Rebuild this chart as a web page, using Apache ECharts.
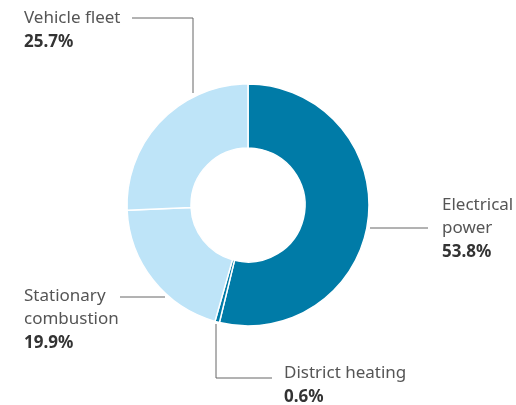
<!DOCTYPE html>
<html>
<head>
<meta charset="utf-8">
<script src="https://cdn.jsdelivr.net/npm/echarts@6/dist/echarts.min.js"></script>
<style>
  html, body { margin: 0; padding: 0; background: #ffffff; }
  #chart { width: 516px; height: 405px; }
</style>
</head>
<body>
<div id="chart"></div>
<script>
// Emission sources and their share of the total (%)
const categories = ['Electrical power', 'District heating', 'Stationary combustion', 'Vehicle fleet'];
const labelRows = [['Electrical', 'power'], ['District heating'], ['Stationary', 'combustion'], ['Vehicle fleet']];
const shares = [53.8, 0.6, 19.9, 25.7];

const DARK = '#007ba7';
const LIGHT = '#bee4f8';
const sliceColors = [DARK, DARK, LIGHT, LIGHT];

// Label placement: text block top-left corner and elbow leader line
const leaders = [
  { x: 442, y: 194, points: [[370, 228], [399, 228], [428, 228]] },
  { x: 284, y: 362, points: [[216, 324], [216, 378], [272, 378]] },
  { x: 24,  y: 285, points: [[165, 297], [142, 297], [120, 297]] },
  { x: 24,  y: 7,   points: [[193, 93], [193, 18], [132, 18]] }
];

const FONT = '"Noto Sans", "Open Sans", sans-serif';

const chart = echarts.init(document.getElementById('chart'), null, { renderer: 'canvas' });

chart.setOption({
  animation: false,
  backgroundColor: '#ffffff',
  series: [{
    type: 'pie',
    center: [248, 205],
    radius: [57, 121],
    startAngle: 90,
    clockwise: true,
    avoidLabelOverlap: false,
    itemStyle: { borderColor: '#ffffff', borderWidth: 1.5 },
    label: {
      show: true,
      position: 'outside',
      formatter: function (p) {
        const rows = labelRows[p.dataIndex].map(function (r) { return '{n|' + r + '}'; });
        rows.push('{v|' + shares[p.dataIndex].toFixed(1) + '%}');
        return rows.join('\n');
      },
      rich: {
        n: { fontFamily: FONT, fontSize: 17, color: '#555555', lineHeight: 23 },
        v: { fontFamily: FONT, fontSize: 17, fontWeight: 'bold', color: '#333333', lineHeight: 25 }
      }
    },
    labelLine: {
      show: true,
      length: 10,
      length2: 10,
      lineStyle: { color: '#666666', width: 1 }
    },
    labelLayout: function (params) {
      const l = leaders[params.dataIndex];
      return {
        x: l.x,
        y: l.y,
        align: 'left',
        verticalAlign: 'top',
        labelLinePoints: l.points
      };
    },
    emphasis: { disabled: true },
    data: categories.map(function (name, i) {
      return { name: name, value: shares[i], itemStyle: { color: sliceColors[i] } };
    })
  }]
});
</script>
</body>
</html>
